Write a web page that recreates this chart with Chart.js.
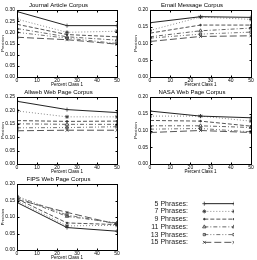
<!DOCTYPE html>
<html>
<head>
<meta charset="utf-8">
<script src="https://cdn.jsdelivr.net/npm/chart.js@4.4.1/dist/chart.umd.min.js"></script>
<style>
  html, body { margin: 0; padding: 0; background: #fff; }
  body { width: 257px; height: 260px; position: relative; overflow: hidden; }
  canvas { position: absolute; }
</style>
</head>
<body>
<canvas id="journal" width="128" height="87" style="left:0;top:0"></canvas>
<canvas id="email" width="124" height="87" style="left:133px;top:0"></canvas>
<canvas id="allweb" width="128" height="87" style="left:0;top:87px"></canvas>
<canvas id="nasa" width="124" height="87" style="left:133px;top:87px"></canvas>
<canvas id="fips" width="128" height="86" style="left:0;top:174px"></canvas>
<canvas id="legend" width="129" height="56" style="left:128px;top:195px"></canvas>
<script>
// x values: percent of class 1
const percentClass1 = [0, 25, 50];
const seriesLabels = ['5 Phrases:', '7 Phrases:', '9 Phrases:', '11 Phrases:', '13 Phrases:', '15 Phrases:'];

// precision per series (5,7,9,11,13,15 phrases)
const journalPrecision = [
    [0.293, 0.230, 0.230],
    [0.259, 0.200, 0.205],
    [0.236, 0.190, 0.180],
    [0.217, 0.180, 0.165],
    [0.200, 0.174, 0.150],
    [0.178, 0.167, 0.147]
];
const emailPrecision = [
    [0.162, 0.180, 0.178],
    [0.139, 0.179, 0.172],
    [0.131, 0.155, 0.155],
    [0.120, 0.138, 0.146],
    [0.116, 0.128, 0.134],
    [0.106, 0.121, 0.123]
];
const allwebPrecision = [
    [0.234, 0.203, 0.192],
    [0.198, 0.176, 0.176],
    [0.162, 0.159, 0.160],
    [0.150, 0.148, 0.148],
    [0.135, 0.136, 0.139],
    [0.124, 0.126, 0.126]
];
const nasaPrecision = [
    [0.158, 0.143, 0.138],
    [0.143, 0.143, 0.128],
    [0.130, 0.128, 0.113],
    [0.114, 0.114, 0.109],
    [0.104, 0.106, 0.096],
    [0.094, 0.100, 0.094]
];
const fipsPrecision = [
    [0.144, 0.068, 0.057],
    [0.149, 0.073, 0.075],
    [0.155, 0.082, 0.077],
    [0.159, 0.102, 0.082],
    [0.163, 0.106, 0.080],
    [0.153, 0.114, 0.078]
];

// line style per series
const dashes = [[], [1, 2], [4, 2], [4, 2, 1, 2], [4, 2, 1, 2, 1, 2], [7, 3]];
const markers = ['cross', 'star', 'circle', 'triangle', 'rect', 'crossRot'];
const markerSize = [2, 2, 0.8, 2, 1.6, 2];
const lineColors = ['#222', '#888', '#555', '#666', '#777', '#555'];

const FONT = 'Liberation Sans, Arial, sans-serif';

// box round the plot area, with inward ticks on all four sides
const boxPlugin = {
    id: 'box',
    afterDraw(chart) {
        if (chart.canvas.id === 'legend') return;
        const a = chart.chartArea;
        const ctx = chart.ctx;
        const l = Math.round(a.left) + 0.5, r = Math.round(a.right) + 0.5;
        const t = Math.round(a.top) + 0.5, b = Math.round(a.bottom) + 0.5;
        ctx.save();
        ctx.strokeStyle = '#000';
        ctx.lineWidth = 1;
        ctx.strokeRect(l, t, r - l, b - t);
        ctx.beginPath();
        const xs = chart.scales.x, ys = chart.scales.y;
        xs.ticks.forEach(tk => {
            const px = Math.round(xs.getPixelForValue(tk.value)) + 0.5;
            ctx.moveTo(px, b); ctx.lineTo(px, b - 2);
            ctx.moveTo(px, t); ctx.lineTo(px, t + 2);
        });
        ys.ticks.forEach(tk => {
            const py = Math.round(ys.getPixelForValue(tk.value)) + 0.5;
            ctx.moveTo(l, py); ctx.lineTo(l + 2, py);
            ctx.moveTo(r, py); ctx.lineTo(r - 2, py);
        });
        ctx.stroke();
        ctx.restore();
    }
};

function seriesStyle(i) {
    return {
        borderColor: lineColors[i],
        borderWidth: 1,
        borderDash: dashes[i],
        pointStyle: markers[i],
        pointRadius: markerSize[i],
        pointBorderColor: '#333',
        pointBackgroundColor: i === 2 ? '#333' : 'rgba(0,0,0,0)',
        pointBorderWidth: 0.8,
        fill: false,
        tension: 0
    };
}

function makePanel(id, title, values, yMax, padRight) {
    const datasets = values.map((row, i) => Object.assign({
        label: seriesLabels[i],
        data: row.map((v, k) => ({ x: percentClass1[k], y: v }))
    }, seriesStyle(i)));

    new Chart(document.getElementById(id), {
        type: 'line',
        data: { datasets: datasets },
        plugins: [boxPlugin],
        options: {
            responsive: false,
            animation: false,
            devicePixelRatio: 1,
            layout: { padding: { left: 0, right: padRight, top: 0, bottom: 0 } },
            plugins: {
                legend: { display: false },
                tooltip: { enabled: false },
                title: {
                    display: true,
                    text: title,
                    color: '#000',
                    font: { family: FONT, size: 6, weight: 'normal' },
                    padding: { top: 2, bottom: 0.8 }
                }
            },
            scales: {
                x: {
                    type: 'linear',
                    min: 0,
                    max: 50,
                    afterFit: s => { s.height = 10; },
                    ticks: {
                        stepSize: 10,
                        autoSkip: false,
                        maxRotation: 0,
                        padding: 1,
                        color: '#000',
                        font: { family: FONT, size: 5 }
                    },
                    grid: { display: false, drawTicks: false },
                    border: { display: false },
                    title: {
                        display: true,
                        text: 'Percent Class 1',
                        color: '#000',
                        padding: 0,
                        font: { family: FONT, size: 4.5 }
                    }
                },
                y: {
                    min: 0,
                    max: yMax,
                    afterFit: s => { s.width = 17; },
                    ticks: {
                        stepSize: 0.05,
                        autoSkip: false,
                        padding: 2,
                        color: '#000',
                        font: { family: FONT, size: 5 },
                        callback: v => v.toFixed(2)
                    },
                    grid: { display: false, drawTicks: false },
                    border: { display: false },
                    title: {
                        display: true,
                        text: 'Precision',
                        color: '#000',
                        padding: 0,
                        font: { family: FONT, size: 4 }
                    }
                }
            }
        }
    });
}

makePanel('journal', 'Journal Article Corpus', journalPrecision, 0.30, 11);
makePanel('email', 'Email Message Corpus', emailPrecision, 0.20, 6);
makePanel('allweb', 'Allweb Web Page Corpus', allwebPrecision, 0.25, 11);
makePanel('nasa', 'NASA Web Page Corpus', nasaPrecision, 0.20, 6);
makePanel('fips', 'FIPS Web Page Corpus', fipsPrecision, 0.20, 11);

// legend: one short line per series, labels on a category axis
const legendSets = seriesLabels.map((lab, i) => Object.assign({
    label: lab,
    data: [{ x: 0, y: lab }, { x: 1, y: lab }]
}, seriesStyle(i)));

new Chart(document.getElementById('legend'), {
    type: 'line',
    data: { datasets: legendSets },
    options: {
        responsive: false,
        animation: false,
        devicePixelRatio: 1,
        layout: { padding: { left: 0, right: 23, top: 4, bottom: 4 } },
        plugins: { legend: { display: false }, tooltip: { enabled: false } },
        scales: {
            x: { type: 'linear', min: -0.55, max: 1, display: false },
            y: {
                type: 'category',
                labels: seriesLabels,
                offset: true,
                afterFit: s => { s.width = 60; },
                ticks: { autoSkip: false, padding: 0, color: '#222', font: { family: FONT, size: 7 } },
                grid: { display: false, drawTicks: false },
                border: { display: false }
            }
        }
    }
});
</script>
</body>
</html>
